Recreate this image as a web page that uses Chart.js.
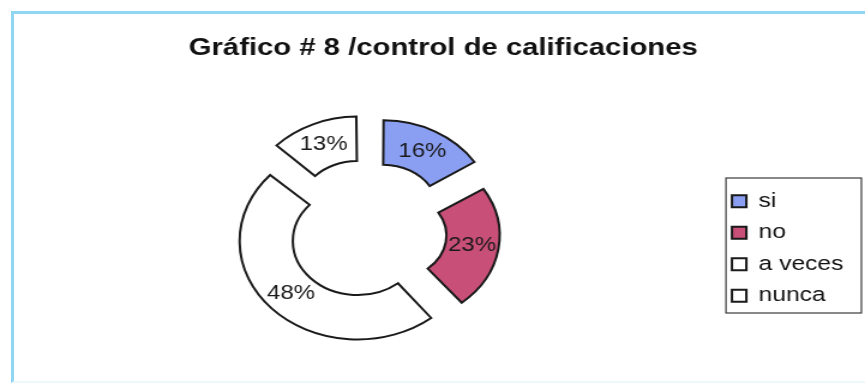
<!DOCTYPE html>
<html>
<head>
<meta charset="utf-8">
<script src="https://cdn.jsdelivr.net/npm/chart.js@4/dist/chart.umd.min.js"></script>
<style>
  html, body { margin: 0; padding: 0; background: #ffffff; overflow: hidden; }
  body { width: 865px; height: 386px; position: relative; }
  /* the chart is laid out narrow and widened horizontally, as in the original document */
  #stage { position: absolute; left: 0; top: 0; width: 721px; height: 386px;
           transform: scaleX(1.19972); transform-origin: 0 0; }
  #frame { position: absolute; left: 11px; top: 11px; width: 860px; height: 367px;
           border-top: 3px solid #8fd6f2; border-left: 3px solid #8fd6f2;
           border-bottom: 2px solid #eef8fc; filter: blur(0.7px); pointer-events: none; }
</style>
</head>
<body>
<div id="frame"></div>
<div id="stage"><canvas id="chart" width="721" height="386"></canvas></div>
<script>
// Survey answers: "control de calificaciones"
const categories = ['si', 'no', 'a veces', 'nunca'];
const shares = [16, 23, 48, 13];           // percent of respondents
const chartTitle = 'Gráfico # 8 /control de calificaciones';

const sliceColors = ['#8a9ff2', '#c84f78', '#ffffff', '#ffffff'];
const sliceExplode = [96, 88, 52, 96];     // Chart.js arc offset (px * 4)

// Percent labels placed in the middle of each (exploded) ring segment
const sliceLabels = {
  id: 'sliceLabels',
  afterDatasetsDraw(chart, args, opts) {
    const ctx = chart.ctx;
    const meta = chart.getDatasetMeta(0);
    const values = chart.data.datasets[0].data;
    ctx.save();
    ctx.font = opts.font;
    ctx.fillStyle = opts.color;
    ctx.textAlign = 'center';
    ctx.textBaseline = 'middle';
    meta.data.forEach((arc, i) => {
      const p = arc.getProps(['x', 'y', 'startAngle', 'endAngle', 'innerRadius', 'outerRadius', 'circumference'], true);
      const shift = (arc.options.offset || 0) / 4;
      const grow = shift * (1 - Math.sin(Math.min(Math.PI, p.circumference)));
      const mid = (p.startAngle + p.endAngle) / 2;
      const dist = shift + grow + (p.innerRadius + p.outerRadius) / 2;
      ctx.fillText(values[i] + '%', p.x + Math.cos(mid) * dist, p.y + Math.sin(mid) * dist);
    });
    ctx.restore();
  }
};

// Thin box around the legend entries
const legendFrame = {
  id: 'legendFrame',
  afterDraw(chart, args, opts) {
    const lg = chart.legend;
    if (!lg || !lg.legendHitBoxes || !lg.legendHitBoxes.length) return;
    const hb = lg.legendHitBoxes;
    const first = hb[0], last = hb[hb.length - 1];
    const x0 = first.left - opts.padLeft;
    const y0 = first.top - opts.padTop;
    const x1 = lg.right + opts.padRight;
    const y1 = last.top + last.height + opts.padBottom;
    const ctx = chart.ctx;
    ctx.save();
    ctx.strokeStyle = opts.color;
    ctx.lineWidth = opts.width;
    ctx.strokeRect(x0, y0, x1 - x0, y1 - y0);
    ctx.restore();
  }
};

// The heading sits a little right of the ring's centre line
const titleNudge = {
  id: 'titleNudge',
  afterLayout(chart, args, opts) {
    const t = chart.titleBlock;
    if (t) { t.left += opts.dx; t.right += opts.dx; }
  }
};

new Chart(document.getElementById('chart'), {
  type: 'doughnut',
  data: {
    labels: categories,
    datasets: [{
      data: shares,
      backgroundColor: sliceColors,
      borderColor: '#1a1a1a',
      borderWidth: 2,
      borderJoinStyle: 'miter',
      offset: sliceExplode,
      hoverOffset: 0,
      clip: false
    }]
  },
  options: {
    responsive: false,
    animation: false,
    events: [],
    radius: 87,
    cutout: '49%',
    layout: { padding: { left: 16, right: 8, top: 0, bottom: 69 } },
    plugins: {
      title: {
        display: true,
        text: chartTitle,
        color: '#111111',
        font: { family: 'Liberation Sans, Arial, sans-serif', size: 24.4, weight: 'bold' },
        padding: { top: 33.4, bottom: 84.6 }
      },
      legend: {
        position: 'right',
        align: 'end',
        labels: {
          boxWidth: 12,
          boxHeight: 12,
          padding: 11,
          color: '#111111',
          font: { family: 'Liberation Sans, Arial, sans-serif', size: 20.5 }
        }
      },
      tooltip: { enabled: false },
      sliceLabels: { font: '20px "Liberation Sans", Arial, sans-serif', color: '#1a1a1a' },
      legendFrame: { padLeft: 5, padTop: 13, padRight: 5, padBottom: 7, color: '#3a3a3a', width: 1.2 },
      titleNudge: { dx: 5 }
    }
  },
  plugins: [titleNudge, sliceLabels, legendFrame]
});
</script>
</body>
</html>
